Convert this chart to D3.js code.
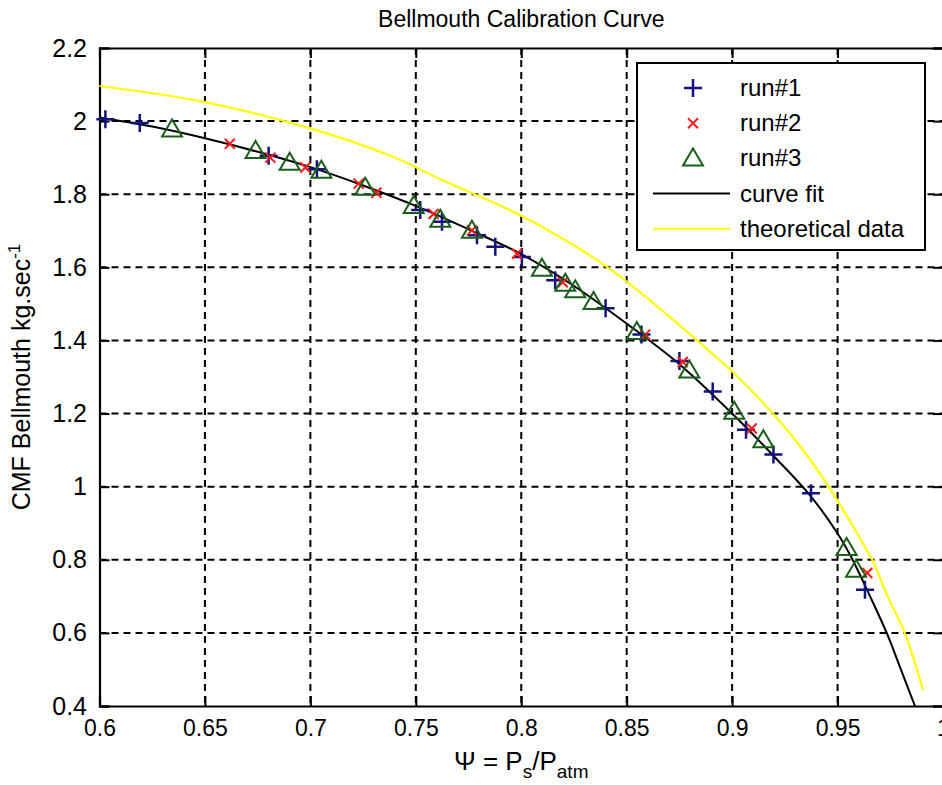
<!DOCTYPE html>
<html>
<head>
<meta charset="utf-8">
<script src="https://cdn.jsdelivr.net/npm/d3@7"></script>
<style>
  body { margin: 0; background: #fff; }
  svg text { font-family: "Liberation Sans", Arial, sans-serif; fill: #000; }
</style>
</head>
<body>
<svg width="942" height="785"></svg>
<script>
// values
const xTicks = [0.6, 0.65, 0.7, 0.75, 0.8, 0.85, 0.9, 0.95, 1];
const yTicks = [0.4, 0.6, 0.8, 1, 1.2, 1.4, 1.6, 1.8, 2, 2.2];

const run1 = [
  [0.6028, 2.005], [0.6191, 1.995], [0.6802, 1.905], [0.7031, 1.868], [0.7521, 1.757],
  [0.7624, 1.725], [0.779, 1.688], [0.7877, 1.656], [0.8003, 1.628], [0.8161, 1.565],
  [0.84, 1.488], [0.857, 1.416], [0.875, 1.344], [0.8908, 1.26], [0.9066, 1.156],
  [0.9196, 1.088], [0.9374, 0.982], [0.963, 0.718]
];
const run2 = [
  [0.6618, 1.938], [0.681, 1.9], [0.6976, 1.873], [0.7229, 1.829], [0.7313, 1.804],
  [0.7584, 1.746], [0.7766, 1.701], [0.798, 1.637], [0.8197, 1.559], [0.8588, 1.416],
  [0.8766, 1.341], [0.9093, 1.159], [0.9641, 0.764]
];
const run3 = [
  [0.6344, 1.977], [0.674, 1.918], [0.6902, 1.886], [0.7052, 1.864], [0.726, 1.818],
  [0.749, 1.768], [0.7616, 1.73], [0.7766, 1.7], [0.8098, 1.596], [0.8209, 1.555],
  [0.8256, 1.537], [0.8343, 1.505], [0.8548, 1.423], [0.8797, 1.318], [0.901, 1.205],
  [0.9148, 1.127], [0.9543, 0.832], [0.9588, 0.773]
];
const curveFit = [
  [0.6, 2.01], [0.625, 1.985], [0.65, 1.953], [0.675, 1.916], [0.7, 1.874],
  [0.725, 1.824], [0.75, 1.768], [0.775, 1.704], [0.8, 1.636], [0.825, 1.549],
  [0.85, 1.446], [0.875, 1.335], [0.9, 1.2], [0.92, 1.082], [0.9374, 0.973],
  [0.95, 0.872], [0.9567, 0.805], [0.9646, 0.71], [0.9733, 0.6], [0.9797, 0.505], [0.9867, 0.4]
];
const theoretical = [
  [0.6, 2.096], [0.65, 2.052], [0.7, 1.98], [0.738, 1.905], [0.762, 1.84],
  [0.8, 1.741], [0.841, 1.6], [0.875, 1.442], [0.8834, 1.4], [0.9, 1.315],
  [0.9194, 1.2], [0.935, 1.09], [0.948, 0.98], [0.964, 0.825], [0.9664, 0.8],
  [0.9738, 0.7], [0.982, 0.598], [0.9905, 0.444]
];

const legendItems = [
  { label: "run#1", kind: "plus" },
  { label: "run#2", kind: "cross" },
  { label: "run#3", kind: "tri" },
  { label: "curve fit", kind: "line", color: "#000" },
  { label: "theoretical data", kind: "line", color: "#ffff00" }
];

const width = 942, height = 785;
const margin = { top: 48, right: -1, bottom: 79, left: 99.5 };
const svg = d3.select("svg");

const x = d3.scaleLinear().domain([0.6, 1]).range([margin.left, width - margin.right]);
const y = d3.scaleLinear().domain([0.4, 2.2]).range([height - margin.bottom, margin.top]);

const colors = { plus: "#12127e", cross: "#ff1a1a", tri: "#1a5e1a" };
const shapes = {
  plus: "M-9,0H9M0,-9V9",
  cross: "M-5,-5L5,5M-5,5L5,-5",
  tri: "M0,-10L10,7L-10,7Z"
};

// grid
const grid = svg.append("g").attr("stroke", "#000").attr("stroke-width", 2)
  .attr("stroke-dasharray", "7,5");
grid.selectAll(".gx").data(xTicks.slice(1, -1)).enter().append("line")
  .attr("x1", d => x(d)).attr("x2", d => x(d))
  .attr("y1", y(2.2)).attr("y2", y(0.4));
grid.selectAll(".gy").data(yTicks.slice(1, -1)).enter().append("line")
  .attr("y1", d => y(d)).attr("y2", d => y(d))
  .attr("x1", x(0.6)).attr("x2", x(1));

// axes (ticks inward on all sides)
const fmt = d3.format("~g");
const axBottom = svg.append("g").attr("transform", `translate(0,${y(0.4)})`)
  .call(d3.axisBottom(x).tickValues(xTicks).tickSize(-10).tickPadding(14).tickFormat(fmt));
const axLeft = svg.append("g").attr("transform", `translate(${x(0.6)},0)`)
  .call(d3.axisLeft(y).tickValues(yTicks).tickSize(-10).tickPadding(10).tickFormat(fmt));
const axTop = svg.append("g").attr("transform", `translate(0,${y(2.2)})`)
  .call(d3.axisTop(x).tickValues(xTicks).tickSize(-10).tickFormat(""));
const axRight = svg.append("g").attr("transform", `translate(${x(1)},0)`)
  .call(d3.axisRight(y).tickValues(yTicks).tickSize(-10).tickFormat(""));

[axBottom, axLeft, axTop, axRight].forEach(g => {
  g.selectAll("path,line").attr("stroke", "#000").attr("stroke-width", 2);
  g.select(".domain").attr("stroke-width", 2.2);
});
axBottom.selectAll("text").attr("font-size", 23).attr("font-family", "Liberation Sans, Arial");
axLeft.selectAll("text").attr("font-size", 25).attr("font-family", "Liberation Sans, Arial")
  .attr("dx", "-0.1em");

// lines
const line = d3.line().x(d => x(d[0])).y(d => y(d[1])).curve(d3.curveCatmullRom.alpha(0.5));
svg.append("path").datum(curveFit).attr("d", line)
  .attr("fill", "none").attr("stroke", "#000").attr("stroke-width", 2);
svg.append("path").datum(theoretical).attr("d", line)
  .attr("fill", "none").attr("stroke", "#ffff00").attr("stroke-width", 2.2);

// markers
function drawMarkers(data, kind) {
  svg.append("g").selectAll("path").data(data).enter().append("path")
    .attr("transform", d => `translate(${x(d[0])},${y(d[1])})`)
    .attr("d", shapes[kind])
    .attr("fill", "none")
    .attr("stroke", colors[kind])
    .attr("stroke-width", kind === "plus" ? 2.5 : 2);
}
drawMarkers(run1, "plus");
drawMarkers(run2, "cross");
drawMarkers(run3, "tri");

// legend
const lg = svg.append("g").attr("transform", "translate(637,63)");
lg.append("rect").attr("width", 288).attr("height", 187)
  .attr("fill", "#fff").attr("stroke", "#000").attr("stroke-width", 2);
const rows = lg.selectAll("g.row").data(legendItems).enter().append("g")
  .attr("transform", (d, i) => `translate(0,${25 + i * 35.2})`);
rows.each(function (d) {
  const g = d3.select(this);
  if (d.kind === "line") {
    g.append("line").attr("x1", 16).attr("x2", 93).attr("stroke", d.color).attr("stroke-width", 2);
  } else {
    g.append("path").attr("transform", "translate(56,0)").attr("d", shapes[d.kind])
      .attr("fill", "none").attr("stroke", colors[d.kind])
      .attr("stroke-width", d.kind === "plus" ? 2.5 : 2);
  }
  g.append("text").attr("x", 103).attr("y", 8).attr("font-size", 24).text(d.label);
});

// title and axis labels
svg.append("text").attr("x", (x(0.6) + x(1)) / 2).attr("y", 27)
  .attr("text-anchor", "middle").attr("font-size", 23).text("Bellmouth Calibration Curve");

const xl = svg.append("text").attr("x", (x(0.6) + x(1)) / 2).attr("y", 770)
  .attr("text-anchor", "middle").attr("font-size", 26);
xl.append("tspan").text("Ψ = P");
xl.append("tspan").attr("font-size", 19).attr("dy", 8).text("s");
xl.append("tspan").attr("dy", -8).text("/P");
xl.append("tspan").attr("font-size", 19).attr("dy", 8).text("atm");

const yl = svg.append("text")
  .attr("transform", `translate(30,${(y(0.4) + y(2.2)) / 2}) rotate(-90)`)
  .attr("text-anchor", "middle").attr("font-size", 25);
yl.append("tspan").text("CMF Bellmouth kg.sec");
yl.append("tspan").attr("font-size", 17).attr("dy", -10).text("-1");
</script>
</body>
</html>
